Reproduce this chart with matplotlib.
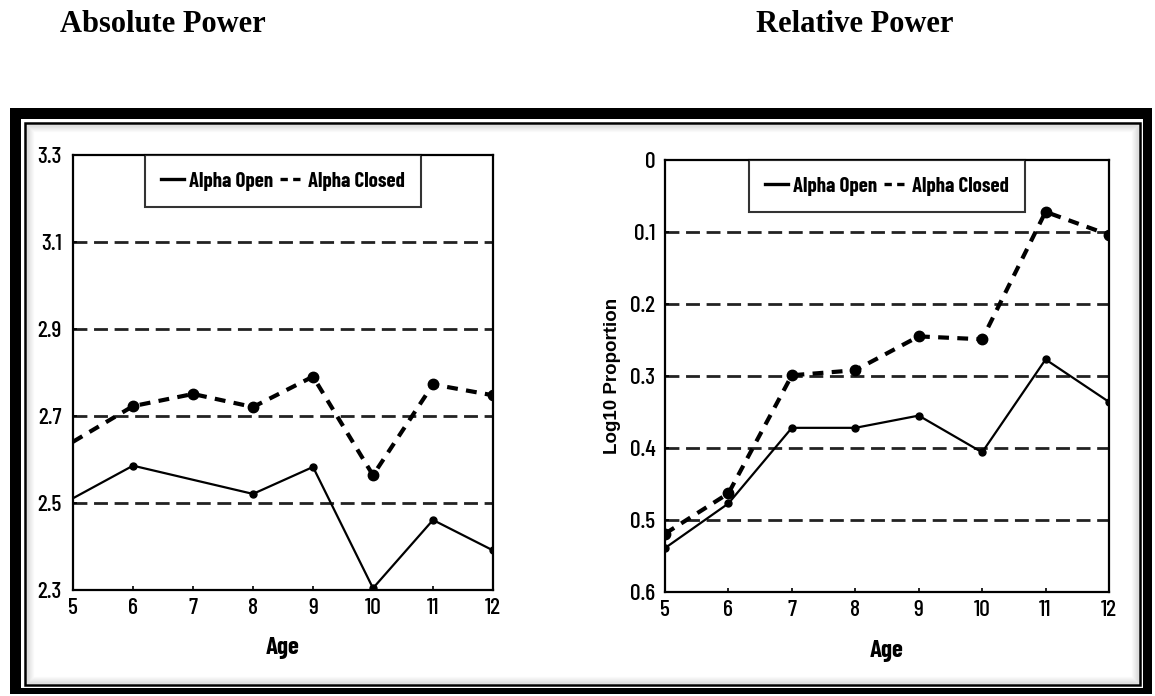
import matplotlib.pyplot as plt
from matplotlib import font_manager as fm
from matplotlib.patches import Rectangle
from matplotlib.lines import Line2D

W, H = 1155, 696

ages = [5, 6, 7, 8, 9, 10, 11, 12]

# absolute power (log10 uV^2)
abs_open_ages = [5, 6, 8, 9, 10, 11, 12]
abs_open = [2.51, 2.585, 2.52, 2.582, 2.303, 2.46, 2.39]
abs_closed = [2.64, 2.722, 2.75, 2.72, 2.79, 2.563, 2.772, 2.747]
abs_yticks = [2.3, 2.5, 2.7, 2.9, 3.1, 3.3]
abs_grid = [2.5, 2.7, 2.9, 3.1]

# relative power (log10 proportion, plotted with 0 at the top)
rel_open = [0.539, 0.477, 0.372, 0.372, 0.355, 0.406, 0.277, 0.336]
rel_closed = [0.519, 0.463, 0.299, 0.292, 0.245, 0.249, 0.072, 0.104]
rel_yticks = [0, 0.1, 0.2, 0.3, 0.4, 0.5, 0.6]
rel_grid = [0.1, 0.2, 0.3, 0.4, 0.5]

# pick a condensed sans for the chart text
installed = {f.name for f in fm.fontManager.ttflist}
NARROW = next((n for n in ['Barlow Condensed', 'Roboto Condensed', 'Archivo Narrow',
                           'PT Sans Narrow', 'Fira Sans Condensed', 'IBM Plex Sans Condensed',
                           'Encode Sans Condensed', 'Liberation Sans Narrow', 'Oswald']
               if n in installed), 'DejaVu Sans')


def fx(px):
    return px / W


def fy(py):
    return 1 - py / H


def box(ax_pos, ylim, yticks, grid, ypad):
    ax = fig.add_axes(ax_pos)
    ax.set_xlim(5, 12)
    ax.set_ylim(*ylim)
    ax.set_xticks(ages)
    ax.set_yticks(yticks)
    ax.set_yticklabels([f"{t:g}" for t in yticks])
    for g in grid:
        ax.axhline(g, color='#222222', lw=2.0, ls=(0, (5, 2.4)), zorder=1)
    for s in ax.spines.values():
        s.set_linewidth(1.6)
    ax.tick_params(direction='in', length=3, width=1.2, labelsize=17)
    ax.tick_params(axis='x', pad=6)
    ax.tick_params(axis='y', pad=ypad)
    for lab in ax.get_xticklabels() + ax.get_yticklabels():
        lab.set_fontfamily([NARROW, 'DejaVu Sans'])
        lab.set_fontweight(500)
    ax.set_xlabel('Age', fontsize=18, fontweight='bold',
                  family=[NARROW, 'DejaVu Sans'], labelpad=14)
    return ax


def legend(ax, text_open, text_closed):
    h = [Line2D([], [], color='black', lw=2.4),
         Line2D([], [], color='black', lw=2.4, ls=(0, (2.2, 1.6)))]
    leg = ax.legend(h, [text_open, text_closed], loc='upper center', ncol=2,
                    bbox_to_anchor=(0.5, 1.0), borderaxespad=0, frameon=True,
                    fancybox=False, edgecolor='black', handlelength=1.1,
                    handletextpad=0.25, columnspacing=0.3, borderpad=0.8,
                    prop={'family': [NARROW, 'DejaVu Sans'], 'weight': 'bold', 'size': 15})
    leg.get_frame().set_linewidth(1.5)
    leg.set_zorder(5)


fig = plt.figure(figsize=(W / 100, H / 100), dpi=100)


def frame_rect(x0, y0, x1, y1, **kw):
    r = Rectangle((fx(x0), fy(y1)), fx(x1 - x0), (y1 - y0) / H,
                  transform=fig.transFigure, zorder=-5, **kw)
    fig.patches.append(r)


# page frame: thick black border, thin inner rule, soft inner shadow
frame_rect(10, 108, 1152, 694, facecolor='black')
frame_rect(21, 119, 1143, 688, facecolor='white')
frame_rect(24.5, 122.5, 1139.5, 685, facecolor='none', edgecolor='black', lw=1.8)
for i in range(1, 8):
    frame_rect(25.5 + i, 123.5 + i, 1138.5 - i, 684 - i, facecolor='none',
               edgecolor='black', alpha=0.12 * (1 - i / 8), lw=1.0)

fig.text(fx(163), fy(32), 'Absolute Power', ha='center', va='baseline',
         family='Liberation Serif', fontweight='bold', fontsize=22)
fig.text(fx(855), fy(32), 'Relative Power', ha='center', va='baseline',
         family='Liberation Serif', fontweight='bold', fontsize=22)

# left panel
ax1 = box([fx(73), fy(589.5), fx(420), 434.5 / H], (2.3, 3.3), abs_yticks, abs_grid, 8)
ax1.plot(abs_open_ages, abs_open, color='black', lw=1.6, marker='o', ms=5,
         markevery=list(range(1, len(abs_open))), zorder=3)
ax1.plot(ages, abs_closed, color='black', lw=3.0, ls=(0, (2.6, 2.0)), marker='o', ms=7.5,
         markevery=list(range(1, len(abs_closed))), zorder=3)
legend(ax1, 'Alpha Open', 'Alpha Closed')

# right panel
ax2 = box([fx(665), fy(592), fx(444), 432 / H], (0.6, 0), rel_yticks, rel_grid, 7)
ax2.plot(ages, rel_open, color='black', lw=1.6, marker='o', ms=5, zorder=3)
ax2.plot(ages, rel_closed, color='black', lw=3.0, ls=(0, (2.6, 2.0)), marker='o', ms=7.5, zorder=3)
ax2.set_ylabel('Log10 Proportion', fontsize=13.5, fontweight='bold',
               family='Liberation Sans', labelpad=6)
legend(ax2, 'Alpha Open', 'Alpha Closed')

fig.savefig('out.png', dpi=100)
